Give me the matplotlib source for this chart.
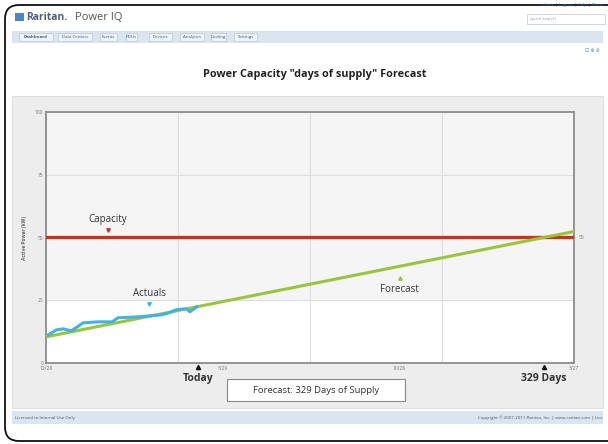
import matplotlib.pyplot as plt
from matplotlib.patches import FancyBboxPatch, Rectangle
from matplotlib.transforms import blended_transform_factory
import numpy as np

plt.rcParams['font.family'] = ['Open Sans', 'DejaVu Sans']

# data (days counted from 12/28)
actual_days = [2, 9, 15, 22, 32, 45, 57, 62, 80, 100, 106, 112, 121, 124, 130]
actual_kw = [11.2, 13.2, 13.6, 12.8, 16.0, 16.4, 16.4, 18.0, 18.4, 19.2, 20.0, 21.2, 21.6, 20.4, 22.4]
forecast_days = [0, 455]
forecast_kw = [10.4, 52.4]
capacity_kw = 50
today_day = 131
days_of_supply = 329
xtick_days = [0, 152, 304, 455]
xtick_labels = ['12/28', '5/29', '10/28', '3/27']
ytick_values = [0, 25, 50, 75, 100]
tabs = ['Dashboard', 'Data Centers', 'Events', 'PDUs', 'Devices', 'Analytics', 'Cooling', 'Settings']
tab_x = [19, 58, 100, 126, 149, 180, 211, 234]
tab_w = [34, 34, 17, 11, 23, 24, 15, 23]

fig = plt.figure(figsize=(6.08, 4.44), dpi=100)

# ---- page chrome (pixel coordinates) ----
bg = fig.add_axes([0, 0, 1, 1])
bg.set_xlim(0, 608)
bg.set_ylim(444, 0)
bg.axis('off')

bg.add_patch(Rectangle((12, 31), 591, 12, color='#dbe5f0', lw=0))
for name, x, w in zip(tabs, tab_x, tab_w):
    bg.add_patch(Rectangle((x, 33), w, 8.5, facecolor='#eef3f8', edgecolor='#b8c8da', lw=0.5))
    bg.text(x + w / 2, 37.3, name, fontsize=3.2, color='#3d5a80', ha='center', va='center',
            fontweight='bold' if name == 'Dashboard' else 'normal')
bg.add_patch(Rectangle((15, 13), 9, 8, color='#4a86c5', lw=0))
bg.text(26, 17, 'Raritan.', fontsize=7.5, fontweight='bold', color='#50607a', va='center')
bg.text(75, 17, 'Power IQ', fontsize=8, color='#555555', va='center')
bg.text(604, 5, 'admin | Logout | Help | About', fontsize=3.2, color='#3355aa', ha='right', va='center')
bg.add_patch(Rectangle((527, 14), 78, 10, facecolor='white', edgecolor='#c0c8d0', lw=0.5))
bg.text(530, 19, 'quick search', fontsize=3.2, color='#999999', va='center')
bg.text(600, 50, '⊡ ⊕ ⊘', fontsize=3.5, color='#6688aa', ha='right', va='center')

bg.add_patch(Rectangle((12, 96), 591, 312, facecolor='#ededed', edgecolor='#e0e0e0', lw=0.8))
bg.add_patch(Rectangle((12, 411), 591, 13, color='#dbe5f0', lw=0))
bg.text(15, 417.5, 'Licensed to Internal Use Only', fontsize=3.2, color='#445566', va='center')
bg.text(603, 417.5, 'Copyright © 2007-2011 Raritan, Inc. | www.raritan.com | Lice', fontsize=3.2,
        color='#445566', ha='right', va='center')

bg.text(315, 75, 'Power Capacity "days of supply" Forecast', fontsize=7.8, fontweight='bold',
        color='#222222', ha='center', va='center')

bg.add_patch(Rectangle((227, 379), 178, 22, facecolor='white', edgecolor='#8a8a8a', lw=0.8))
bg.text(316, 390, 'Forecast: %d Days of Supply' % days_of_supply, fontsize=6.8, color='#333333',
        ha='center', va='center')

bg.add_patch(FancyBboxPatch((5, 5), 640, 436, boxstyle='round,pad=0,rounding_size=14',
                            facecolor='none', edgecolor='#111111', lw=1.3))

# ---- chart ----
ax = fig.add_axes([46 / 608, (444 - 363) / 444, 528 / 608, 251 / 444])
ax.set_xlim(0, 455)
ax.set_ylim(0, 100)
ax.set_facecolor('white')
ax.axhspan(25, 100, color='#f5f5f5', zorder=0, lw=0)

ax.set_xticks(xtick_days)
ax.set_xticklabels(xtick_labels)
ax.set_xticks(np.linspace(0, 455, 5)[1:-1], minor=True)
ax.set_yticks(ytick_values)
ax.tick_params(axis='both', which='both', length=0, labelsize=3.5, labelcolor='#777777', pad=2)
ax.grid(axis='x', which='minor', color='#dddddd', lw=0.8)
ax.grid(axis='y', which='major', color='#dddddd', lw=0.8)
ax.set_axisbelow(True)
for s in ax.spines.values():
    s.set_color('#8c8c8c')
    s.set_linewidth(1.3)
ax.set_ylabel('Active Power (kW)', fontsize=3.5, fontweight='bold', color='#666666', labelpad=6)

ax.axhline(capacity_kw, color='#c9331c', lw=2.4, zorder=3)
ax.plot(forecast_days, forecast_kw, color='#9cc43a', lw=2.2, zorder=4)
ax.plot(actual_days, actual_kw, color='#3fb4e4', lw=2.2, zorder=5, solid_joinstyle='round')
ax.text(1.008, capacity_kw, str(capacity_kw), transform=blended_transform_factory(ax.transAxes, ax.transData),
        fontsize=3.5, color='#777777', va='center')

# annotations
ax.plot(53, capacity_kw + 3, marker='v', color='#c9331c', ms=2.5, zorder=6)
ax.text(53, capacity_kw + 5, 'Capacity', fontsize=7, color='#333333', ha='center', va='bottom')
ax.plot(89, 23.5, marker='v', color='#3fb4e4', ms=2.5, zorder=6)
ax.text(89, 25.5, 'Actuals', fontsize=7, color='#333333', ha='center', va='bottom')
ax.plot(305, 33.8, marker='^', color='#9cc43a', ms=2.5, zorder=6)
ax.text(305, 31.5, 'Forecast', fontsize=7, color='#333333', ha='center', va='top')

slope = (forecast_kw[1] - forecast_kw[0]) / (forecast_days[1] - forecast_days[0])
cross_day = (capacity_kw - forecast_kw[0]) / slope
tr = blended_transform_factory(ax.transData, ax.transAxes)
for d, lab in [(today_day, 'Today'), (cross_day, '%d Days' % days_of_supply)]:
    ax.plot(d, -0.015, marker='^', color='#111111', ms=3, transform=tr, clip_on=False, zorder=7)
    ax.text(d, -0.04, lab, transform=tr, fontsize=7.5, fontweight='bold', color='#333333',
            ha='center', va='top')

fig.savefig('out.png', dpi=100)
